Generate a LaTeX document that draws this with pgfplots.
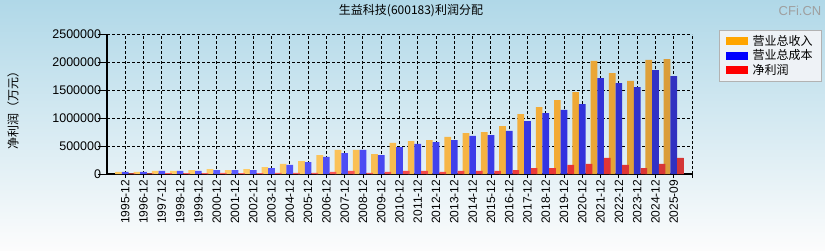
\documentclass[border=0pt]{standalone}
\usepackage{fontspec}
\setmainfont{Liberation Sans}
\newfontfamily\cjk{Noto Sans CJK SC}
\usepackage{pgfplots}
\pgfplotsset{compat=1.18}
\usepackage{pgfplotstable}

\definecolor{bgtop}{HTML}{B0D8E8}
\definecolor{bgbot}{HTML}{FCFCFC}
\definecolor{legbg}{HTML}{EEF2F6}
\definecolor{o1}{HTML}{FFBE40}
\definecolor{o2}{HTML}{FFCE6A}
\definecolor{o3}{HTML}{F2AA34}
\definecolor{o4}{HTML}{9C7C48}
\definecolor{b1}{HTML}{2A2AE8}
\definecolor{b2}{HTML}{5A5AFF}
\definecolor{b3}{HTML}{3232E0}
\definecolor{b4}{HTML}{30306E}
\definecolor{r1}{HTML}{FF3434}
\definecolor{r2}{HTML}{FF6464}
\definecolor{r3}{HTML}{E83434}
\definecolor{r4}{HTML}{A03C3C}
\definecolor{lorange}{HTML}{FFA500}
\definecolor{lblue}{HTML}{0000FF}
\definecolor{lred}{HTML}{FF0000}

\pgfdeclarehorizontalshading{obar}{100bp}{color(0bp)=(o1); color(35bp)=(o2); color(65bp)=(o3); color(100bp)=(o4)}
\pgfdeclarehorizontalshading{bbar}{100bp}{color(0bp)=(b1); color(35bp)=(b2); color(65bp)=(b3); color(100bp)=(b4)}
\pgfdeclarehorizontalshading{rbar}{100bp}{color(0bp)=(r1); color(35bp)=(r2); color(65bp)=(r3); color(100bp)=(r4)}

\pgfplotstableread{
x rev cost np
0 36000 36000 10000
1 36000 36000 10000
2 54000 54000 15000
3 54000 54000 15000
4 71000 54000 15000
5 89000 71000 18000
6 71000 71000 15000
7 89000 71000 15000
8 125000 107000 18000
9 179000 161000 18000
10 232000 214000 18000
11 339000 304000 36000
12 429000 375000 54000
13 429000 429000 18000
14 357000 339000 36000
15 554000 482000 54000
16 589000 536000 54000
17 607000 571000 36000
18 661000 607000 54000
19 732000 679000 54000
20 750000 696000 54000
21 857000 768000 71000
22 1071000 946000 107000
23 1196000 1089000 107000
24 1321000 1143000 161000
25 1464000 1250000 179000
26 2018000 1714000 286000
27 1803000 1625000 161000
28 1661000 1553000 107000
29 2036000 1857000 179000
30 2053000 1750000 286000
}\datatable

\begin{document}
\begin{tikzpicture}[x=1bp,y=1bp]
\shade[top color=bgtop, bottom color=bgbot] (0,0) rectangle (825,250);
\node[font=\cjk\fontsize{12bp}{14bp}\selectfont] at (411,239) {生益科技(600183)利润分配};
\node[font=\fontsize{13bp}{15bp}\selectfont, text=gray!75] at (800,239) {CFi.CN};
\node[rotate=90, font=\cjk\fontsize{12bp}{14bp}\selectfont] at (13,142.5) {净利润（万元）};
\begin{axis}[
  at={(107bp,76bp)}, anchor=south west,
  width=585bp, height=140bp, scale only axis,
  xmin=-1, xmax=31, ymin=0, ymax=2500000,
  bar width=6.67bp,
  scaled y ticks=false,
  xtick={0,...,30},
  xticklabels={1995-12,1996-12,1997-12,1998-12,1999-12,2000-12,2001-12,2002-12,2003-12,2004-12,2005-12,2006-12,2007-12,2008-12,2009-12,2010-12,2011-12,2012-12,2013-12,2014-12,2015-12,2016-12,2017-12,2018-12,2019-12,2020-12,2021-12,2022-12,2023-12,2024-12,2025-09},
  extra x ticks={31}, extra x tick labels={}, extra x tick style={grid=major},
  ytick={0,500000,1000000,1500000,2000000,2500000},
  yticklabels={0,500000,1000000,1500000,2000000,2500000},
  x tick label style={rotate=90, anchor=east, font=\fontsize{12bp}{14bp}\selectfont, inner sep=1.5bp},
  y tick label style={font=\fontsize{12.5bp}{14bp}\selectfont, inner sep=1.5bp},
  xtick pos=left, ytick pos=left, tick align=outside,
  xtick style={black, line width=0.8bp, /pgfplots/major tick length=4bp},
  ytick style={black, line width=0.8bp, /pgfplots/major tick length=9bp},
  axis x line*=bottom, axis y line*=left,
  axis line style={black, line width=1.2bp},
  grid=major, grid style={black, dash pattern=on 3bp off 2bp, line width=0.9bp},
  legend style={at={(axis description cs:1.0462,1.0286)}, anchor=north west,
    draw=gray!60, fill=legbg, font=\cjk\fontsize{12bp}{13.5bp}\selectfont,
    inner xsep=7bp, inner ysep=3bp, row sep=-1bp,
    cells={anchor=west},
    /tikz/every odd column/.append style={column sep=3bp}},
  legend cell align=left,
]
\addplot[ybar, bar width=6.67bp, bar shift=-6.67bp, draw=none, shade, shading=obar, forget plot] table[x=x,y=rev]{\datatable};
\addplot[ybar, bar width=6.67bp, bar shift=0bp, draw=none, shade, shading=bbar, forget plot] table[x=x,y=cost]{\datatable};
\addplot[ybar, bar width=6.67bp, bar shift=6.67bp, draw=none, shade, shading=rbar, forget plot] table[x=x,y=np]{\datatable};
\addlegendimage{legend image code/.code={\fill[lorange] (0bp,-3.5bp) rectangle (21bp,3.5bp);}}
\addlegendimage{legend image code/.code={\fill[lblue] (0bp,-3.5bp) rectangle (21bp,3.5bp);}}
\addlegendimage{legend image code/.code={\fill[lred] (0bp,-3.5bp) rectangle (21bp,3.5bp);}}
\legend{营业总收入,营业总成本,净利润}
\end{axis}
\end{tikzpicture}
\end{document}
